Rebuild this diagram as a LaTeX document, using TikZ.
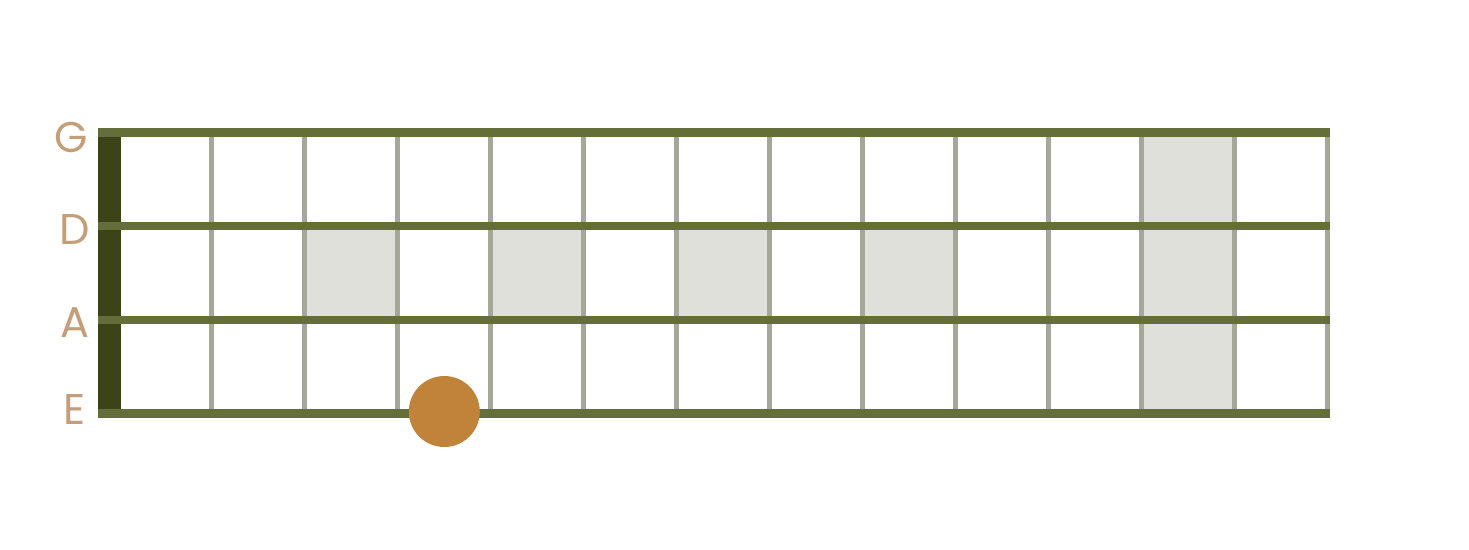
\documentclass[tikz,border=0pt]{standalone}
\usepackage{fontspec}
\setmainfont{Poppins}
\definecolor{stringc}{HTML}{636E38}
\definecolor{nutc}{HTML}{3C4417}
\definecolor{fretc}{HTML}{A5A898}
\definecolor{shadec}{HTML}{DFE0DA}
\definecolor{dotc}{HTML}{C1823A}
\definecolor{labelc}{HTML}{C49E78}
\tikzset{
  stringline/.style={draw=stringc, line width=8.5pt},
  fretline/.style={draw=fretc, line width=4.5pt},
  shadecell/.style={fill=shadec},
  nutbar/.style={fill=nutc},
  strlabel/.style={text=labelc, font=\fontsize{43}{43}\selectfont, inner sep=0pt, anchor=center},
  notedot/.style={circle, fill=dotc, minimum size=71pt, inner sep=0pt}
}
\begin{document}
\begin{tikzpicture}[x=1pt,y=-1pt]
\useasboundingbox (0,0) rectangle (1469,549);
% string y positions
\def\yG{132.5}\def\yD{226.2}\def\yA{319.9}\def\yE{413.6}
% shaded cells
\foreach \a in {2,4,6,8}{
  \fill[shadecell] ({118.5+93*\a},\yD) rectangle ({118.5+93*(\a+1)},\yA);
}
\fill[shadecell] ({118.5+93*11},\yG) rectangle ({118.5+93*12},\yE);
% frets
\foreach \k in {1,...,13}{
  \coordinate (ft\k) at ({118.5+93*\k},\yG);
  \coordinate (fb\k) at ({118.5+93*\k},\yE);
  \draw[fretline] (ft\k) -- (fb\k);
}
% nut
\fill[nutbar] (98.3,\yG) rectangle (121,\yE);
% strings
\foreach \s/\y in {G/\yG,D/\yD,A/\yA,E/\yE}{
  \coordinate (\s l) at (98.3,\y);
  \coordinate (\s r) at (1330,\y);
  \draw[stringline] (\s l) -- (\s r);
}
% labels
\node[strlabel] (labG) at (71.5,137) {G};
\node[strlabel] (labD) at (75,230) {D};
\node[strlabel] (labA) at (75,322.5) {A};
\node[strlabel] (labE) at (75,409) {E};
% note
\node[notedot] (note) at (444.3,411.5) {};
\end{tikzpicture}
\end{document}
